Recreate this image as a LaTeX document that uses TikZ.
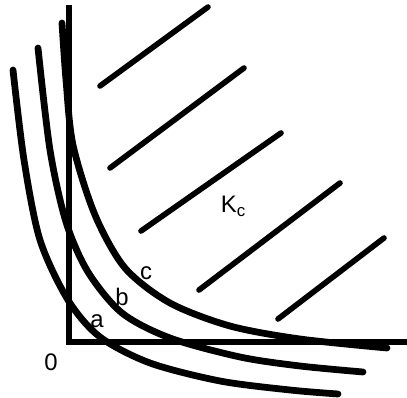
\documentclass[tikz,border=0pt]{standalone}
\usepackage{fontspec}
\setmainfont{Liberation Sans}
\usetikzlibrary{positioning}

\begin{document}
\begin{tikzpicture}[x=0.025cm, y=-0.025cm,
  axis/.style={line width=3.6pt},
  curve/.style={line width=4.8pt, line cap=round},
  hatch/.style={line width=4pt, line cap=round},
  lbl/.style={font=\fontsize{17}{20}\selectfont, inner sep=0pt}]
  \useasboundingbox (0,0) rectangle (407,398);
  % axes
  \draw[axis] (69,5) -- (69,342) -- (407,342);

  % hatching of the set K_c
  \draw[hatch] (100,86) -- (208,7);
  \draw[hatch] (110,168) -- (244,68);
  \draw[hatch] (141,231) -- (281,133);
  \draw[hatch] (199,290) -- (340,183);
  \draw[hatch] (278,319) -- (384,238);

  % curves a, b, c
  \draw[curve] plot[smooth] coordinates {(13,70) (24,160) (40,240) (68,300) (100,337) (150,363) (220,381) (290,390) (338,394)};
  \draw[curve] plot[smooth] coordinates {(38,48) (50,150) (66,222) (88,272) (122,313) (170,338) (240,357) (300,366) (363,372)};
  \draw[curve] plot[smooth] coordinates {(62,23) (66,80) (73,145) (95,215) (125,268) (170,303) (230,326) (300,339) (387,348)};

  % labels
  \node[lbl] (origin) at (51,362) {0};
  \node[lbl] (la) at (97,321) {a};
  \node[lbl] (lb) at (122,297) {b};
  \node[lbl] (lc) at (146,273) {c};
  \node[lbl] (kc) at (233,206) {K\raisebox{-0.3ex}{\fontsize{12}{14}\selectfont c}};
\end{tikzpicture}
\end{document}
